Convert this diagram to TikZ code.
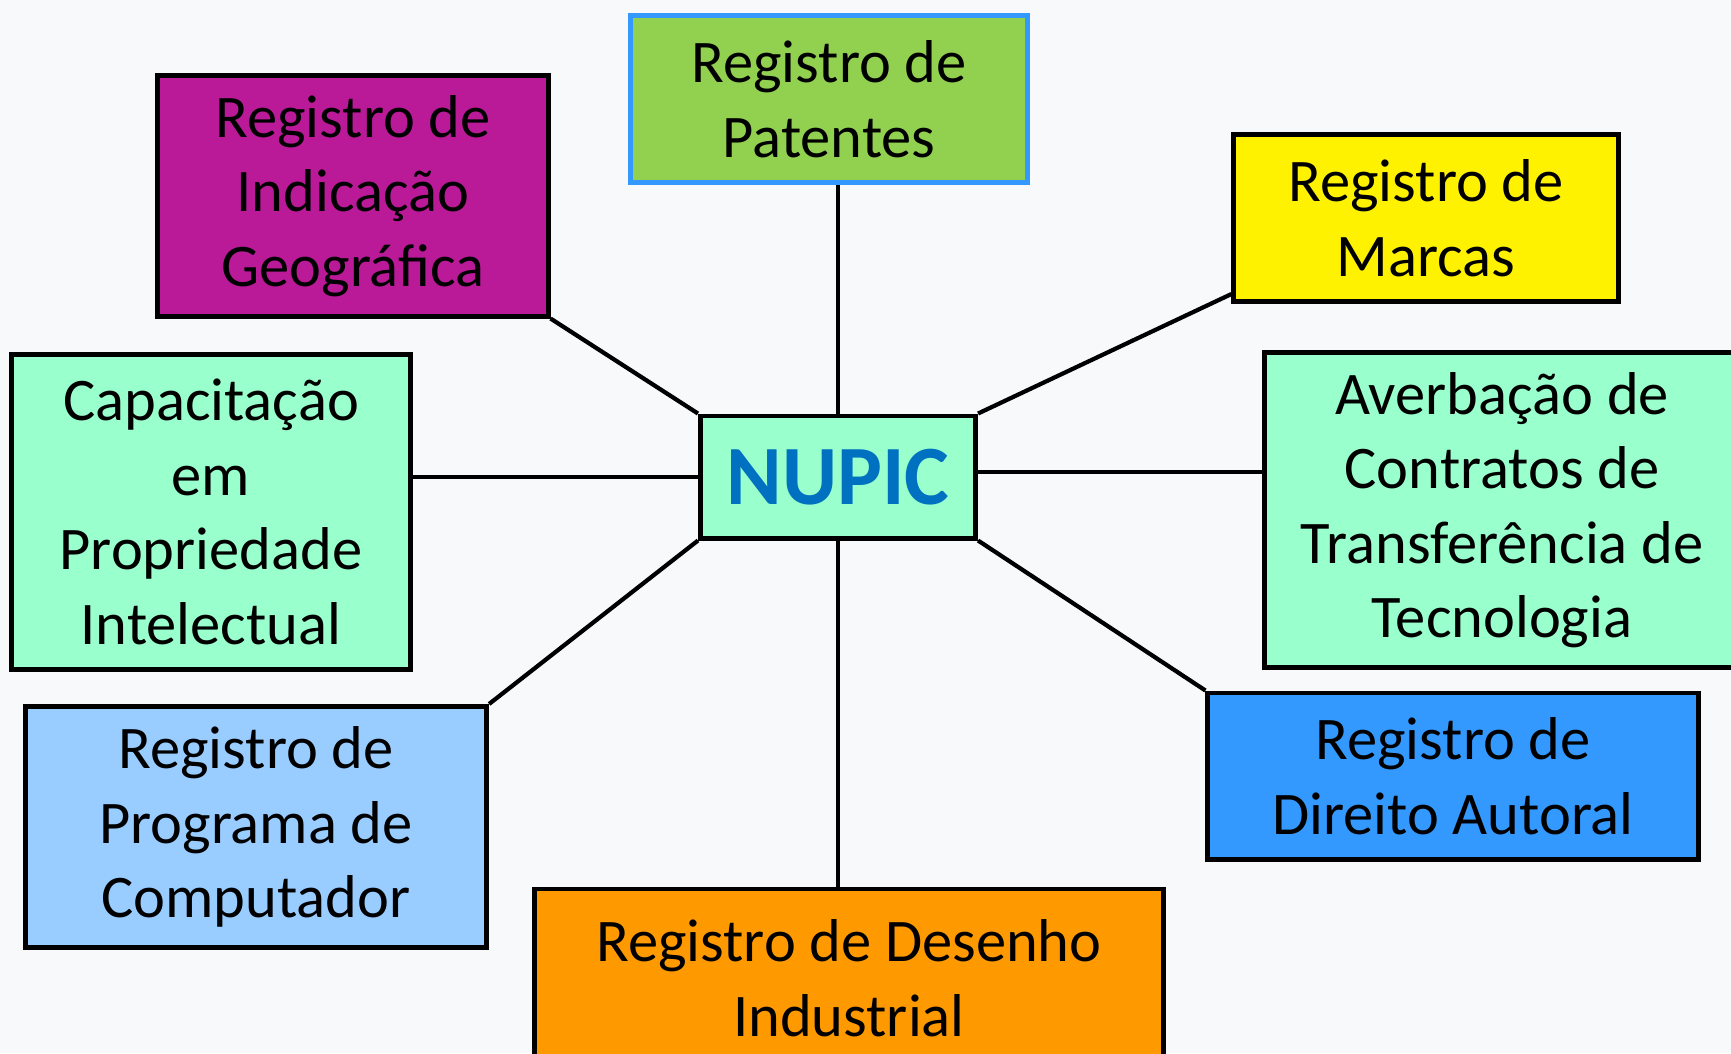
\documentclass[tikz,border=0pt]{standalone}
\usepackage{fontspec}
\setmainfont{Carlito}
\usetikzlibrary{positioning}

\definecolor{bgcol}{RGB}{247,249,251}
\definecolor{patgreen}{RGB}{146,208,80}
\definecolor{patblue}{RGB}{51,153,255}
\definecolor{geopurple}{RGB}{186,26,152}
\definecolor{mint}{RGB}{153,255,204}
\definecolor{skyblue}{RGB}{153,204,255}
\definecolor{autorblue}{RGB}{51,153,255}
\definecolor{desorange}{RGB}{255,153,0}
\definecolor{nupicblue}{RGB}{0,112,192}

\begin{document}
\begin{tikzpicture}[x=0.01cm, y=-0.01cm,
    % Styles
    topic/.style={draw=black, line width=1.4pt, inner sep=0pt, align=center,
        font=\fontsize{17.2}{21.2}\selectfont},
    hub/.style={draw=black, line width=1.4pt, fill=mint, inner sep=0pt,
        minimum width=2.75cm, minimum height=1.22cm,
        font=\fontsize{24}{28}\selectfont\bfseries, text=nupicblue},
    link/.style={draw=black, line width=1.2pt},
]

% Background
\fill[bgcol] (0,0) rectangle (1731,1053);
\clip (0,0) rectangle (1731,1053);

% Central node
\node[hub] (nupic) at (838,477) {NUPIC};

% Top row
\node[topic, fill=patgreen, draw=patblue, minimum width=3.96cm, minimum height=1.67cm] (patentes) at (829,99) {Registro de\\Patentes};
\node[topic, fill=geopurple, minimum width=3.90cm, minimum height=2.40cm] (geografica) at (353,196) {Registro de\\Indicação\\Geográfica};
\node[topic, fill=yellow, minimum width=3.84cm, minimum height=1.67cm] (marcas) at (1426,218) {Registro de\\Marcas};

% Middle row
\node[topic, fill=mint, minimum width=3.99cm, minimum height=3.14cm] (capacitacao) at (211,512) {Capacitação\\em\\Propriedade\\Intelectual};
\node[topic, fill=mint, minimum width=4.74cm, minimum height=3.15cm] (averbacao) at (1502,510) {Averbação de\\Contratos de\\Transferência de\\Tecnologia};

% Bottom row
\node[topic, fill=skyblue, minimum width=4.61cm, minimum height=2.41cm] (computador) at (256,827) {Registro de\\Programa de\\Computador};
\node[topic, fill=autorblue, minimum width=4.90cm, minimum height=1.66cm] (autoral) at (1453,776) {Registro de\\Direito Autoral};
\node[topic, fill=desorange, minimum width=6.28cm, minimum height=1.78cm] (desenho) at (849,978) {Registro de Desenho\\Industrial};

% Connectors
\draw[link] (nupic.north) -- (nupic.north |- patentes.south);
\draw[link] (geografica.south east) -- (nupic.north west);
\draw[link] (nupic.north east) -- ([yshift=0.1cm]marcas.south west);
\draw[link] (nupic.west) -- (nupic.west -| capacitacao.east);
\draw[link] ([yshift=0.05cm]nupic.east) -- ([yshift=0.05cm]nupic.east -| averbacao.west);
\draw[link] (computador.north east) -- (nupic.south west);
\draw[link] (nupic.south east) -- (autoral.north west);
\draw[link] (nupic.south) -- (nupic.south |- desenho.north);

\end{tikzpicture}
\end{document}
